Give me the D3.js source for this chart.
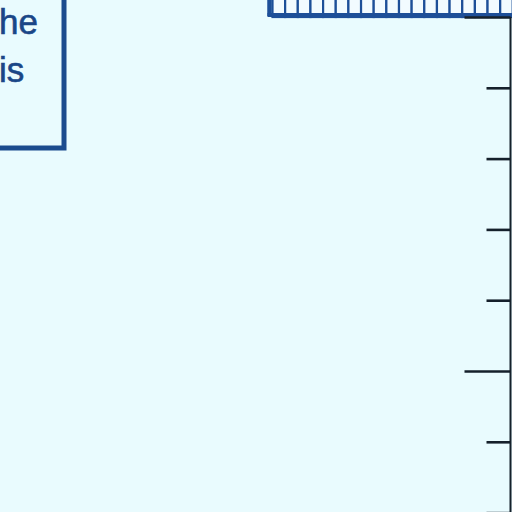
<!DOCTYPE html>
<html>
<head>
<meta charset="utf-8">
<script src="https://cdn.jsdelivr.net/npm/d3@7"></script>
<style>
  html, body { margin: 0; padding: 0; background: #e9fbfe; }
  svg { display: block; }
</style>
</head>
<body>
<svg id="chart"></svg>
<script>
// values
const tickValues = [0, 1, 2, 3, 4, 5, 6, 7, 8, 9, 10];
const majorTicks = [0, 5, 10];
const barCells = d3.range(20);       // unit cells of the top bar
const barTop = 10.4;                 // bar runs from 10 up past the top edge
const barBase = 10;
const noteLines = ["he", "is"];

const width = 512;
const height = 512;

const svg = d3.select("#chart")
  .attr("width", width)
  .attr("height", height);

svg.append("rect")
  .attr("width", width)
  .attr("height", height)
  .attr("fill", "#e9fbfe");

// scales
const yScale = d3.scaleLinear()
  .domain([0, 10])
  .range([725, 17]);

const xScale = d3.scaleLinear()
  .domain([0, barCells.length])
  .range([272.5, 272.5 + barCells.length * 12.65]);

// top bar made of unit cells
const bar = svg.append("g").attr("class", "bar");

bar.selectAll(".cell")
  .data(barCells)
  .enter()
  .append("rect")
  .attr("class", "cell")
  .attr("x", d => xScale(d))
  .attr("y", yScale(barTop))
  .attr("width", xScale(1) - xScale(0))
  .attr("height", yScale(barBase) - yScale(barTop))
  .attr("fill", "#f2fbff")
  .attr("stroke", "#1d4f98")
  .attr("stroke-width", 2.2);

// bar outline: left edge and thick base
bar.append("line")
  .attr("x1", xScale(0) - 3)
  .attr("x2", xScale(0) - 3)
  .attr("y1", -5)
  .attr("y2", yScale(barBase) - 1)
  .attr("stroke", "#1d4f98")
  .attr("stroke-width", 4.5);

bar.append("line")
  .attr("x1", xScale(0) - 5)
  .attr("x2", width + 5)
  .attr("y1", yScale(barBase) - 2)
  .attr("y2", yScale(barBase) - 2)
  .attr("stroke", "#1d4f98")
  .attr("stroke-width", 4);

// right axis: minor ticks, then longer major ticks
const axisX = 510.5;

const minorAxis = d3.axisLeft(yScale)
  .tickValues(tickValues.filter(v => !majorTicks.includes(v)))
  .tickSize(24)
  .tickFormat("");

const majorAxis = d3.axisLeft(yScale)
  .tickValues(majorTicks)
  .tickSize(46)
  .tickFormat("");

[minorAxis, majorAxis].forEach(ax => {
  const g = svg.append("g")
    .attr("transform", `translate(${axisX},0)`)
    .call(ax);
  g.select(".domain").remove();
  g.selectAll(".tick line")
    .attr("stroke", "#15202b")
    .attr("stroke-width", 2.6);
});

svg.append("line")
  .attr("x1", axisX)
  .attr("x2", axisX)
  .attr("y1", yScale(barBase))
  .attr("y2", height)
  .attr("stroke", "#15202b")
  .attr("stroke-width", 2);

// note box in the top-left corner
svg.append("rect")
  .attr("x", -20)
  .attr("y", -20)
  .attr("width", 84)
  .attr("height", 168)
  .attr("fill", "none")
  .attr("stroke", "#1b4b8e")
  .attr("stroke-width", 5);

svg.append("g")
  .selectAll("text")
  .data(noteLines)
  .enter()
  .append("text")
  .attr("x", -1)
  .attr("y", (d, i) => 34 + i * 48)
  .attr("font-family", "Liberation Sans, Arial, sans-serif")
  .attr("font-size", 35)
  .attr("stroke", "#1a4687")
  .attr("stroke-width", 0.6)
  .attr("fill", "#1a4687")
  .text(d => d);
</script>
</body>
</html>
